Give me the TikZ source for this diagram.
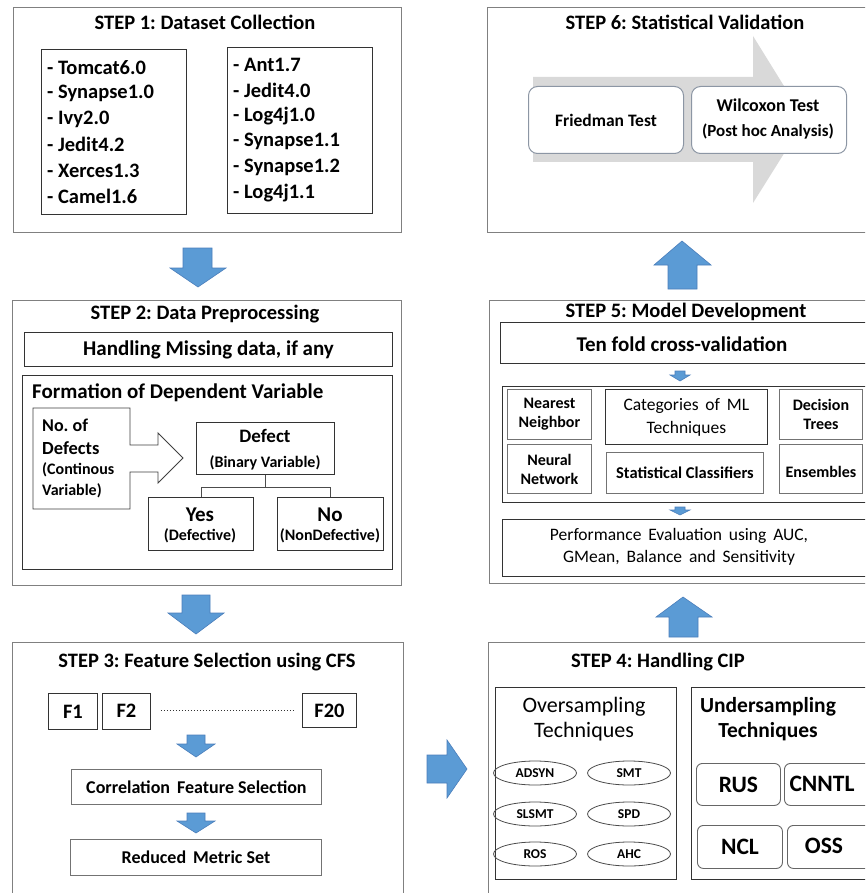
\documentclass[tikz,border=0pt]{standalone}
\usepackage{fontspec}
\setmainfont{Carlito}
\usetikzlibrary{shapes.geometric,calc}

\definecolor{arrowblue}{HTML}{5B9BD5}
\definecolor{arrowedge}{HTML}{4A7EBB}
\definecolor{greyarrow}{HTML}{D9D9D9}
\definecolor{stepline}{HTML}{808080}
\definecolor{roundline}{HTML}{8C96A4}

\newcommand\fsz[1]{\fontsize{#1}{1.15\dimexpr#1pt\relax}\selectfont}

\tikzset{
  stepframe/.style={draw=stepline, line width=1.4pt, anchor=north west, inner sep=0pt},
  box/.style={draw=black!80, line width=0.9pt, anchor=north west, inner sep=0pt},
  greybox/.style={draw=black!55, line width=0.9pt, anchor=north west, inner sep=0pt},
  rbox/.style={draw=roundline, fill=white, line width=1pt, rounded corners=9pt, anchor=north west, inner sep=0pt},
  ubox/.style={draw=black!60, line width=0.9pt, rounded corners=6pt, anchor=north west, inner sep=0pt},
  oval/.style={ellipse, draw=black!70, line width=0.8pt, minimum width=83pt, minimum height=24pt, inner sep=0pt,
               font=\fsz{13.5}\bfseries},
  txt/.style={inner sep=0pt},
  title/.style={inner sep=0pt, font=\fsz{20.5}\bfseries},
  item/.style={inner sep=0pt, anchor=west, font=\fsz{20.5}\bfseries},
  bluearrow/.style={fill=arrowblue, draw=arrowedge, line width=0.6pt},
}

\begin{document}
\frenchspacing
\begin{tikzpicture}[x=1pt,y=-1pt]
\useasboundingbox (0,0) rectangle (865,893);
\clip (0,0) rectangle (865,893);
\fill[white] (0,0) rectangle (865,893);

% ---------------- STEP 1 ----------------
\node[stepframe, minimum width=388pt, minimum height=225pt] (s1) at (13,7) {};
\node[title] (s1t) at (205,22) {STEP 1: Dataset Collection};
\node[box, minimum width=145pt, minimum height=165pt] (listA) at (41,49) {};
\node[box, minimum width=145pt, minimum height=166pt] (listB) at (227,47) {};
\foreach \name [count=\i from 0] in {Tomcat6.0,Synapse1.0,Ivy2.0,Jedit4.2,Xerces1.3,Camel1.6}
  \node[item] (la\i) at (47,68+25.6*\i) {- \name};
\foreach \name [count=\i from 0] in {Ant1.7,Jedit4.0,Log4j1.0,Synapse1.1,Synapse1.2,Log4j1.1}
  \node[item] (lb\i) at (233,65+25.6*\i) {- \name};

% ---------------- STEP 2 ----------------
\node[stepframe, minimum width=389pt, minimum height=285pt] (s2) at (12,300) {};
\node[title] (s2t) at (205,314) {STEP 2: Data Preprocessing};
\node[box, minimum width=368pt, minimum height=34pt] (miss) at (24,332) {};
\node[txt, font=\fsz{21}\bfseries] at (miss.center) {Handling Missing data, if any};
\node[box, minimum width=370pt, minimum height=194pt] (form) at (22,375) {};
\node[txt, anchor=west, font=\fsz{21}\bfseries] (formt) at (32,393) {Formation of Dependent Variable};

% callout: count of defects pointing to the binary variable
\draw[draw=black!75, line width=0.9pt, fill=white]
  (33,408) -- (130,408) -- (130,445) -- (158,445) -- (158,433) -- (183,458)
  -- (158,483) -- (158,472) -- (130,472) -- (130,509) -- (33,509) -- cycle;
\node[txt, anchor=west, font=\fsz{18}\bfseries] (nd1) at (42,425) {No. of};
\node[txt, anchor=west, font=\fsz{18.5}\bfseries] (nd2) at (42,448) {Defects};
\node[txt, anchor=west, font=\fsz{16}\bfseries] (nd3) at (42,470) {(Continous};
\node[txt, anchor=west, font=\fsz{16}\bfseries] (nd4) at (42,491) {Variable)};

\node[box, minimum width=138pt, minimum height=52pt] (def) at (196,422) {};
\node[txt, font=\fsz{19}\bfseries] at (265,436) {Defect};
\node[txt, font=\fsz{16}\bfseries] at (265,463) {(Binary Variable)};

\node[box, minimum width=105pt, minimum height=53pt] (yes) at (148,497) {};
\node[txt, font=\fsz{21}\bfseries] at (200,515) {Yes};
\node[txt, font=\fsz{16}\bfseries] at (200,536) {(Defective)};
\node[box, minimum width=106pt, minimum height=53pt] (no) at (277,497) {};
\node[txt, font=\fsz{21}\bfseries] at (330,515) {No};
\node[txt, font=\fsz{16}\bfseries] at (330,536) {(NonDefective)};

\draw[black!70, line width=0.8pt] (def.south) -- ++(0,12) coordinate (split);
\draw[black!70, line width=0.8pt] (split) -| (yes.north);
\draw[black!70, line width=0.8pt] (split) -| (no.north);

% ---------------- STEP 3 ----------------
\node[stepframe, minimum width=391pt, minimum height=270pt] (s3) at (12,642) {};
\node[title] (s3t) at (207,662) {STEP 3: Feature Selection using CFS};
\node[box, minimum width=49pt, minimum height=36pt] (f1) at (48,693) {};
\node[title] at (f1.center) {F1};
\node[box, minimum width=48pt, minimum height=36pt] (f2) at (102,693) {};
\node[title] at ([yshift=1pt]f2.center) {F2};
\node[box, minimum width=54pt, minimum height=34pt] (f20) at (302,693) {};
\node[title] at (f20.center) {F20};
\draw[black!80, line width=1pt, dotted] ([xshift=10pt]f2.east |- 0,710) -- ([xshift=-9pt]f20.west |- 0,710);

\node[greybox, minimum width=250pt, minimum height=35pt] (cfs) at (71,769) {};
\node[txt, font=\fsz{18}\bfseries] at (cfs.center) {Correlation\, Feature Selection};
\node[greybox, minimum width=251pt, minimum height=36pt] (red) at (70,839) {};
\node[txt, font=\fsz{18}\bfseries] at (red.center) {Reduced\, Metric Set};

\draw[bluearrow] (187,735) -- (205,735) -- (205,744) -- (215,744) -- (196,757) -- (177,744) -- (187,744) -- cycle;
\draw[bluearrow] (187,813) -- (205,813) -- (205,821) -- (215,821) -- (196,833) -- (177,821) -- (187,821) -- cycle;

% ---------------- STEP 4 ----------------
\node[stepframe, minimum width=392pt, minimum height=270pt] (s4) at (488,642) {};
\node[title] (s4t) at (658,662) {STEP 4: Handling CIP};
\node[box, minimum width=181pt, minimum height=192pt] (over) at (495,687) {};
\node[txt, font=\fsz{22}] at (584,707) {Oversampling};
\node[txt, font=\fsz{22}] at (584,732) {Techniques};
\node[oval] (adsyn) at (535,773) {ADSYN};
\node[oval] (smt) at (629,773) {SMT};
\node[oval] (slsmt) at (535,814) {SLSMT};
\node[oval] (spd) at (629,814) {SPD};
\node[oval] (ros) at (535,854) {ROS};
\node[oval] (ahc) at (629,854) {AHC};

\node[box, minimum width=189pt, minimum height=192pt] (under) at (691,687) {};
\node[txt, font=\fsz{21.5}\bfseries] at (768,707) {Undersampling};
\node[txt, font=\fsz{21.5}\bfseries] at (768,732) {Techniques};
\node[ubox, minimum width=84pt, minimum height=42pt] (rus) at (696,763) {};
\node[txt, font=\fsz{23.5}\bfseries] at (rus.center) {RUS};
\node[ubox, minimum width=96pt, minimum height=42pt] (cnntl) at (784,763) {};
\node[txt, font=\fsz{23.5}\bfseries] at (822,784) {CNNTL};
\node[ubox, minimum width=85pt, minimum height=43pt] (ncl) at (697,825) {};
\node[txt, font=\fsz{23.5}\bfseries] at (ncl.center) {NCL};
\node[ubox, minimum width=93pt, minimum height=43pt] (oss) at (787,825) {};
\node[txt, font=\fsz{23.5}\bfseries] at (824,846) {OSS};

% ---------------- STEP 5 ----------------
\node[stepframe, minimum width=391pt, minimum height=283pt] (s5) at (489,300) {};
\node[title] (s5t) at (686,312) {STEP 5: Model Development};
\node[box, minimum width=380pt, minimum height=41pt] (tenfold) at (500,322) {};
\node[txt, font=\fsz{21}\bfseries] at (682,344) {Ten fold cross-validation};
\node[box, minimum width=378pt, minimum height=116pt] (cats) at (502,386) {};
\node[greybox, minimum width=84pt, minimum height=50pt] (nn) at (507,389) {};
\node[txt, align=center, font=\fontsize{16}{19}\selectfont\bfseries] at (nn.center) {Nearest\\Neighbor};
\node[greybox, minimum width=84pt, minimum height=49pt] (neural) at (507,444) {};
\node[txt, align=center, font=\fontsize{16}{19}\selectfont\bfseries] at (neural.center) {Neural\\Network};
\node[box, minimum width=162pt, minimum height=55pt] (mlcat) at (605,389) {};
\node[txt, align=center, font=\fontsize{17.5}{23}\selectfont] at (mlcat.center) {Categories\, of\, ML\\Techniques};
\node[greybox, minimum width=157pt, minimum height=41pt] (stat) at (606,452) {};
\node[txt, font=\fsz{16.5}\bfseries] at (stat.center) {Statistical Classifiers};
\node[greybox, minimum width=83pt, minimum height=50pt] (dt) at (779,389) {};
\node[txt, align=center, font=\fontsize{16}{19}\selectfont\bfseries] at (dt.center) {Decision\\Trees};
\node[greybox, minimum width=83pt, minimum height=49pt] (ens) at (779,444) {};
\node[txt, font=\fsz{16}\bfseries] at ([yshift=-3pt]ens.center) {Ensembles};
\node[box, minimum width=378pt, minimum height=57pt] (perf) at (502,519) {};
\node[txt, align=center, font=\fontsize{17.5}{22.5}\selectfont] at (679,547) {Performance\, Evaluation\, using\, AUC,\\GMean,\, Balance\, and\, Sensitivity};

\draw[bluearrow] (675,371) -- (685,371) -- (685,375) -- (690,375) -- (680,381) -- (670,375) -- (675,375) -- cycle;
\draw[bluearrow] (675,507) -- (685,507) -- (685,510) -- (690,510) -- (680,515) -- (670,510) -- (675,510) -- cycle;

% ---------------- STEP 6 ----------------
\node[stepframe, minimum width=393pt, minimum height=225pt] (s6) at (487,7) {};
\node[title] (s6t) at (685,22) {STEP 6: Statistical Validation};
\fill[greyarrow] (533,77) -- (753,77) -- (753,36) -- (805,120) -- (753,203) -- (753,162) -- (533,162) -- cycle;
\node[rbox, minimum width=155pt, minimum height=67pt] (fried) at (528,86) {};
\node[txt, font=\fsz{17.5}\bfseries] at (fried.center) {Friedman Test};
\node[rbox, minimum width=155pt, minimum height=67pt] (wilc) at (691,86) {};
\node[txt, font=\fsz{18}\bfseries] at (768,105) {Wilcoxon Test};
\node[txt, font=\fsz{17}\bfseries] at (768,132) {(Post hoc Analysis)};

% ---------------- flow arrows between steps ----------------
\draw[bluearrow] (183,248) -- (212,248) -- (212,268) -- (226,268) -- (198,287) -- (170,268) -- (183,268) -- cycle;
\draw[bluearrow] (182,595) -- (210,595) -- (210,613) -- (224,613) -- (196,634) -- (168,613) -- (182,613) -- cycle;
\draw[bluearrow] (427,755) -- (447,755) -- (447,740) -- (467,769) -- (447,798) -- (447,783) -- (427,783) -- cycle;
\draw[bluearrow] (669,637) -- (698,637) -- (698,617) -- (712,617) -- (683,597) -- (656,617) -- (669,617) -- cycle;
\draw[bluearrow] (668,289) -- (697,289) -- (697,265) -- (711,265) -- (682,241) -- (654,265) -- (668,265) -- cycle;
\end{tikzpicture}
\end{document}
